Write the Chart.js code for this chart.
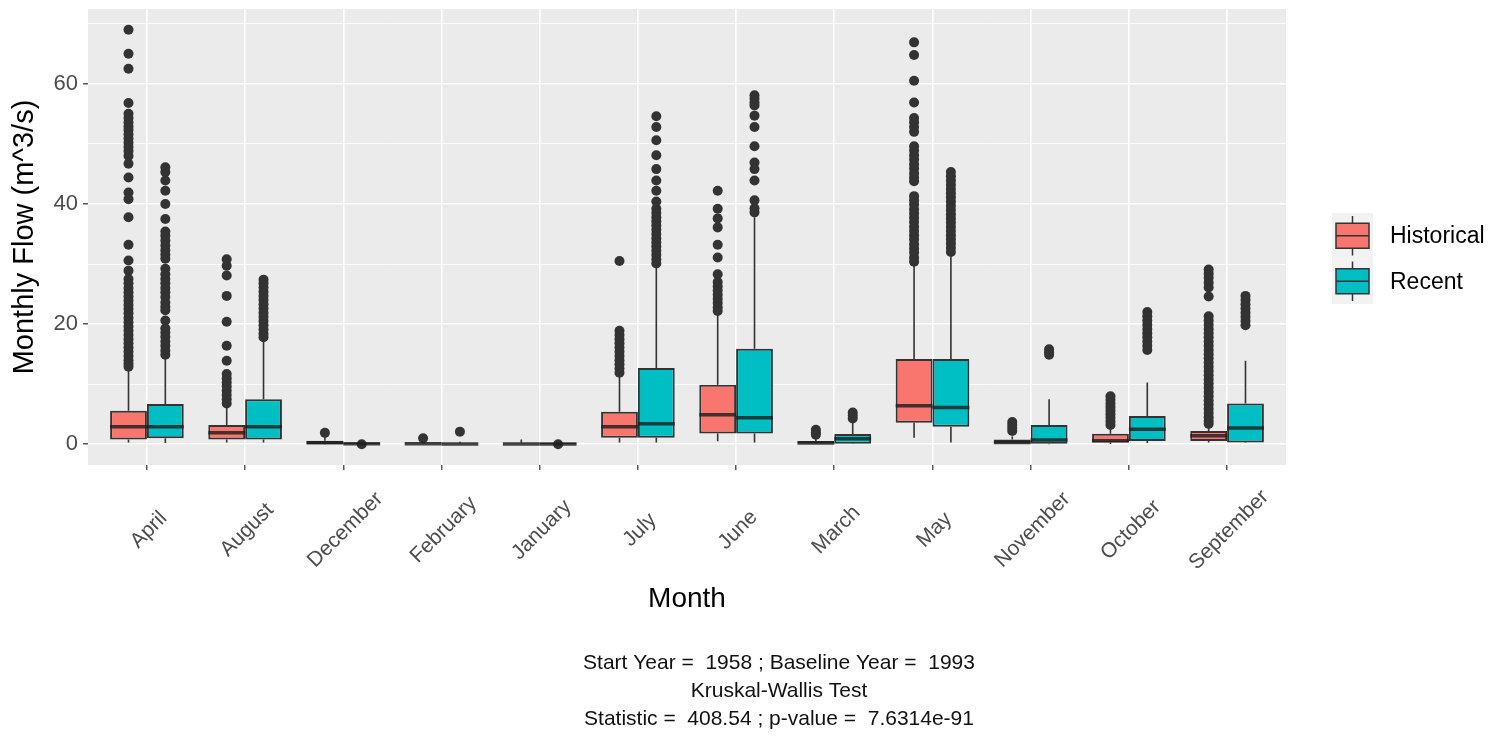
<!DOCTYPE html>
<html>
<head>
<meta charset="utf-8">
<title>Monthly Flow</title>
<script src="https://cdn.jsdelivr.net/npm/chart.js@4"></script>
<style>
  html, body { margin: 0; padding: 0; background: #fff; }
</style>
</head>
<body>
<canvas id="flowChart" width="1494" height="746"></canvas>
<script>
// categories
const months = ['April', 'August', 'December', 'February', 'January', 'July',
                 'June', 'March', 'May', 'November', 'October', 'September'];
const seriesNames = ['Historical', 'Recent'];

// Historical box stats (m^3/s)
const histLow  = [0.3, 0.3, 0.0, 0.0, 0.0, 0.3, 0.5, 0.0, 1.1, 0.0, 0.05, 0.3];
const histQ1   = [0.8, 0.8, 0.05, 0.0, 0.0, 1.1, 1.8, 0.0, 3.6, 0.0, 0.3, 0.55];
const histMed  = [2.9, 1.9, 0.25, 0.08, 0.05, 2.9, 4.9, 0.2, 6.4, 0.3, 0.6, 1.4];
const histQ3   = [5.6, 3.2, 0.6, 0.3, 0.25, 5.4, 9.9, 0.55, 14.2, 0.8, 1.75, 2.2];
const histHigh = [12.5, 6.2, 1.2, 0.5, 0.8, 11.4, 21.9, 1.2, 29.7, 1.3, 2.6, 3.1];

// Recent box stats (m^3/s)
const recLow  = [0.2, 0.3, 0.0, 0.0, 0.0, 0.3, 0.3, 0.05, 0.3, 0.0, 0.2, 0.2];
const recQ1   = [1.0, 0.8, 0.02, 0.0, 0.02, 1.1, 1.8, 0.1, 2.9, 0.1, 0.55, 0.3];
const recMed  = [2.9, 2.9, 0.08, 0.05, 0.06, 3.4, 4.4, 0.9, 6.1, 0.7, 2.5, 2.7];
const recQ3   = [6.7, 7.5, 0.2, 0.2, 0.2, 12.7, 15.9, 1.7, 14.2, 3.2, 4.7, 6.8];
const recHigh = [14.3, 17.2, 0.3, 0.4, 0.3, 29.7, 37.8, 3.6, 31.4, 7.5, 10.3, 13.9];

// outliers, one list per month (same order as months)
const histOutliers = [
  [69.0, 65.0, 62.5, 56.8, 55.0, 54.3, 53.6, 52.9, 52.3, 51.6, 50.9, 50.2, 49.5, 48.8, 48.0, 46.7, 44.4, 41.9, 40.8, 37.8,
   33.2, 30.6, 28.9, 27.5, 26.8, 26.0, 25.3, 24.6, 23.9, 23.2, 22.5, 21.8, 21.0, 20.3, 19.6, 18.9, 18.2, 17.5, 16.8, 16.1,
   15.4, 14.7, 14.0, 13.4, 12.9],
  [30.8, 29.7, 28.1, 24.7, 20.4, 16.4, 13.9, 11.7, 11.0, 10.3, 9.6, 8.9, 8.2, 7.5, 6.8],
  [1.9],
  [1.0],
  [],
  [30.5, 18.9, 18.2, 17.5, 16.8, 16.1, 15.4, 14.7, 14.0, 13.3, 12.6, 11.9],
  [42.2, 39.2, 37.6, 36.1, 33.2, 31.1, 28.3, 27.0, 26.3, 25.6, 24.9, 24.2, 23.5, 22.8, 22.2],
  [2.4, 2.0, 1.6],
  [66.9, 64.8, 60.5, 56.9, 54.3, 53.6, 52.8, 52.0, 49.6, 48.9, 48.1, 47.4, 46.6, 45.9, 45.1, 44.4, 43.8, 41.3, 40.6, 39.9,
   39.1, 38.4, 37.7, 37.0, 36.2, 35.5, 34.8, 34.1, 33.3, 32.6, 31.9, 31.1, 30.4],
  [3.7, 3.2, 2.7, 2.2],
  [8.0, 7.4, 6.8, 6.2, 5.6, 5.0, 4.4, 3.8, 3.2],
  [29.1, 28.4, 27.7, 26.9, 26.1, 24.6, 21.3, 20.6, 19.9, 19.2, 18.5, 17.8, 17.1, 16.4, 15.7, 15.0, 14.3, 13.6, 12.9, 12.2,
   11.5, 10.8, 10.1, 9.4, 8.7, 8.0, 7.3, 6.6, 5.9, 5.2, 4.5, 3.9, 3.4]
];
const recOutliers = [
  [46.1, 45.3, 43.9, 42.2, 40.0, 37.5, 35.4, 34.7, 33.9, 33.1, 32.3, 31.6, 30.9, 29.2, 28.3, 27.5, 26.8, 26.0, 25.3, 24.5,
   23.6, 22.9, 22.3, 20.6, 19.3, 18.6, 17.9, 17.1, 16.4, 15.6, 14.9],
  [27.4, 26.8, 26.1, 25.4, 24.7, 24.0, 23.3, 22.6, 21.9, 21.2, 20.5, 19.8, 19.1, 18.4, 17.8],
  [0.0],
  [2.1],
  [0.0],
  [54.6, 52.8, 50.6, 48.1, 45.8, 43.9, 42.2, 40.4, 39.2, 38.5, 37.8, 37.1, 36.4, 35.7, 35.0, 34.3, 33.6, 32.9, 32.2, 31.5,
   30.8, 30.1],
  [58.1, 57.5, 56.9, 56.4, 54.7, 52.8, 49.6, 46.9, 45.8, 43.9, 40.6, 39.3, 38.6],
  [5.3, 4.8, 4.3],
  [45.3, 44.6, 43.9, 43.2, 42.5, 41.8, 41.1, 40.4, 39.7, 39.0, 38.3, 37.6, 36.9, 36.2, 35.5, 34.8, 34.1, 33.4, 32.7, 32.0],
  [15.8, 15.3, 14.9],
  [22.0, 21.3, 20.6, 19.9, 19.2, 18.5, 17.8, 17.1, 16.4, 15.7],
  [24.7, 24.0, 23.3, 22.6, 21.9, 21.2, 20.5, 19.8]
];

const captionLines = [
  'Start Year =  1958 ; Baseline Year =  1993',
  'Kruskal-Wallis Test',
  'Statistic =  408.54 ; p-value =  7.6314e-91'
];

const fills = ['#F8766D', '#00BFC4'];
const stats = [
  { low: histLow, q1: histQ1, med: histMed, q3: histQ3, high: histHigh },
  { low: recLow, q1: recQ1, med: recMed, q3: recQ3, high: recHigh }
];

const catPct = 0.75;
const dodge = catPct / 4; // offset of each box centre from the month tick

function boxData(q1, q3) {
  return months.map((m, i) => ({ x: i, y: [q1[i], q3[i]] }));
}
function outlierData(lists, shift) {
  return lists.flatMap((vals, i) => vals.map(v => ({ x: i + shift, y: v })));
}

Chart.defaults.font.family = '"Liberation Sans", Arial, sans-serif';

const boxExtras = {
  id: 'boxExtras',
  beforeDraw(chart) {
    const { ctx, chartArea: a } = chart;
    ctx.save();
    ctx.fillStyle = '#EBEBEB';
    ctx.fillRect(a.left, a.top, a.right - a.left, a.bottom - a.top);
    ctx.restore();
  },
  beforeDatasetsDraw(chart) {
    // whiskers
    const { ctx } = chart;
    const y = chart.scales.y;
    ctx.save();
    ctx.strokeStyle = '#333333';
    ctx.lineWidth = 1.6;
    stats.forEach((s, d) => {
      chart.getDatasetMeta(d).data.forEach((bar, i) => {
        ctx.beginPath();
        ctx.moveTo(bar.x, y.getPixelForValue(s.q3[i]));
        ctx.lineTo(bar.x, y.getPixelForValue(s.high[i]));
        ctx.moveTo(bar.x, y.getPixelForValue(s.q1[i]));
        ctx.lineTo(bar.x, y.getPixelForValue(s.low[i]));
        ctx.stroke();
      });
    });
    ctx.restore();
  },
  afterDatasetsDraw(chart) {
    // medians
    const { ctx } = chart;
    const y = chart.scales.y;
    ctx.save();
    ctx.strokeStyle = 'rgba(30,30,30,0.82)';
    ctx.lineWidth = 3.5;
    stats.forEach((s, d) => {
      chart.getDatasetMeta(d).data.forEach((bar, i) => {
        const py = y.getPixelForValue(s.med[i]);
        ctx.beginPath();
        ctx.moveTo(bar.x - bar.width / 2, py);
        ctx.lineTo(bar.x + bar.width / 2, py);
        ctx.stroke();
      });
    });
    ctx.restore();
  },
  afterDraw(chart) {
    const { ctx } = chart;
    const x = chart.scales.x;
    ctx.save();

    // rotated month labels
    ctx.fillStyle = '#4D4D4D';
    ctx.font = '21px "Liberation Sans", Arial, sans-serif';
    ctx.textAlign = 'center';
    ctx.textBaseline = 'middle';
    months.forEach((m, i) => {
      ctx.save();
      ctx.translate(x.getPixelForValue(i) + 2, 530);
      ctx.rotate(-Math.PI / 4);
      ctx.fillText(m, 0, 0);
      ctx.restore();
    });

    // legend
    const keyL = 1332, keyW = 41, keyH = 45.5, keyTop = 213;
    seriesNames.forEach((name, k) => {
      const top = keyTop + k * keyH;
      const cy = top + keyH / 2;
      const cx = keyL + keyW / 2;
      ctx.fillStyle = '#F2F2F2';
      ctx.fillRect(keyL, top, keyW, keyH);
      ctx.strokeStyle = '#333333';
      ctx.lineWidth = 1.5;
      ctx.beginPath();
      ctx.moveTo(cx, top + 3); ctx.lineTo(cx, top + keyH - 3);
      ctx.stroke();
      ctx.fillStyle = fills[k];
      ctx.fillRect(keyL + 4, cy - 12.5, keyW - 8, 25);
      ctx.strokeRect(keyL + 4, cy - 12.5, keyW - 8, 25);
      ctx.beginPath();
      ctx.moveTo(keyL + 4, cy); ctx.lineTo(keyL + keyW - 4, cy);
      ctx.stroke();
      ctx.fillStyle = '#000000';
      ctx.font = '23px "Liberation Sans", Arial, sans-serif';
      ctx.textAlign = 'left';
      ctx.fillText(name, 1390, cy + 1);
    });

    // caption
    ctx.fillStyle = '#111111';
    ctx.font = '21px "Liberation Sans", Arial, sans-serif';
    ctx.textAlign = 'center';
    captionLines.forEach((line, k) => {
      ctx.fillText(line, 779, 663 + k * 28);
    });
    ctx.restore();
  }
};

const ctx = document.getElementById('flowChart').getContext('2d');
const flowChart = new Chart(ctx, {
  type: 'bar',
  data: {
    datasets: [
      {
        label: seriesNames[0],
        data: boxData(histQ1, histQ3),
        backgroundColor: fills[0],
        borderColor: '#333333',
        borderWidth: 2,
        borderSkipped: false
      },
      {
        label: seriesNames[1],
        data: boxData(recQ1, recQ3),
        backgroundColor: fills[1],
        borderColor: '#333333',
        borderWidth: 2,
        borderSkipped: false
      },
      {
        type: 'scatter',
        label: seriesNames[0] + ' outliers',
        data: outlierData(histOutliers, -dodge),
        backgroundColor: '#333333',
        borderWidth: 0,
        pointRadius: 5
      },
      {
        type: 'scatter',
        label: seriesNames[1] + ' outliers',
        data: outlierData(recOutliers, dodge),
        backgroundColor: '#333333',
        borderWidth: 0,
        pointRadius: 5
      }
    ]
  },
  options: {
    responsive: false,
    devicePixelRatio: 1,
    animation: false,
    categoryPercentage: catPct,
    barPercentage: 1.0,
    layout: { padding: { top: 9, right: 208, bottom: 0, left: 0 } },
    plugins: {
      legend: { display: false },
      tooltip: { enabled: false }
    },
    scales: {
      x: {
        type: 'linear',
        min: -0.6,
        max: 11.6,
        offset: false,
        ticks: { stepSize: 1, includeBounds: false, display: false },
        grid: {
          offset: false, color: '#FFFFFF', lineWidth: 1.6,
          tickLength: 5, tickColor: '#333333', tickWidth: 1.2
        },
        border: { display: false },
        title: {
          display: true, text: 'Month', color: '#000000',
          font: { size: 28 }, padding: { top: 0, bottom: 130 }
        },
        afterFit(scale) {
          scale.height = 281;
          scale.paddingLeft = 0;
          scale.paddingRight = 0;
        }
      },
      y: {
        type: 'linear',
        min: -3.45,
        max: 72.45,
        ticks: {
          stepSize: 10,
          includeBounds: false,
          color: '#4D4D4D',
          font: { size: 22 },
          padding: 5,
          callback: v => (v % 20 === 0 ? String(v) : '')
        },
        grid: {
          color: '#FFFFFF',
          lineWidth: c => (c.tick && c.tick.value % 20 === 0 ? 1.6 : 0.8),
          tickLength: 5,
          tickWidth: 1.2,
          tickColor: c => (c.tick && c.tick.value % 20 === 0 ? '#333333' : 'rgba(0,0,0,0)')
        },
        border: { display: false },
        title: {
          display: true, text: 'Monthly Flow (m^3/s)', color: '#000000',
          font: { size: 29 }, padding: { top: 8, bottom: 0 }
        },
        afterFit(scale) {
          scale.width = 88;
          scale.paddingTop = 0;
          scale.paddingBottom = 0;
        }
      }
    }
  },
  plugins: [boxExtras]
});
</script>
</body>
</html>
